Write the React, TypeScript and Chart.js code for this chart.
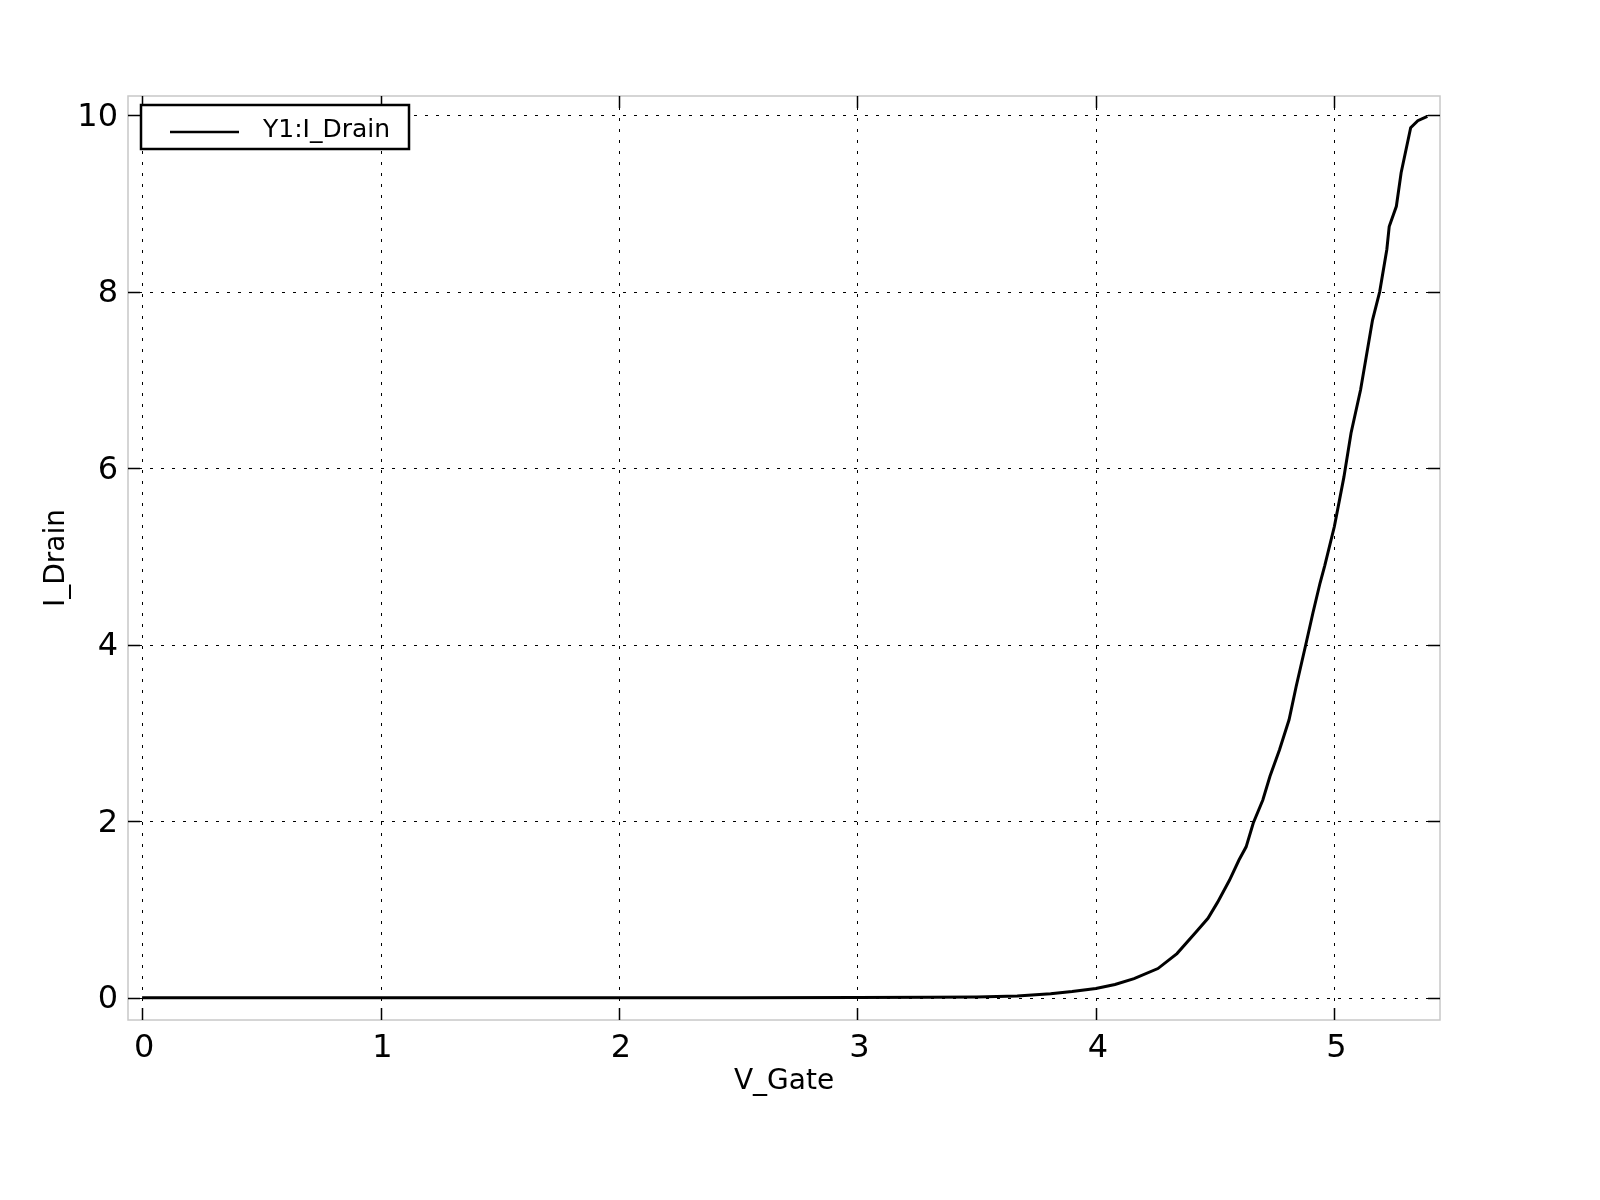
import React, { useEffect, useRef } from "react";
import { Chart, registerables } from "chart.js";

Chart.register(...registerables);

// ---- data ----
const vGate = [
  0, 0.5, 1.0, 1.5, 2.0, 2.5, 3.0, 3.3, 3.5, 3.67, 3.81, 3.9, 4.0, 4.08, 4.16,
  4.26, 4.34, 4.42, 4.47, 4.51, 4.56, 4.6, 4.63, 4.66, 4.7, 4.73, 4.77, 4.81,
  4.84, 4.88, 4.91, 4.94, 4.96, 5.0, 5.04, 5.07, 5.11, 5.16, 5.19, 5.22, 5.23,
  5.26, 5.28, 5.32, 5.35, 5.39,
];
const iDrain = [
  0, 0, 0, 0, 0, 0, 0.001, 0.004, 0.008, 0.02, 0.045, 0.07, 0.105, 0.15, 0.215,
  0.33, 0.5, 0.745, 0.9, 1.08, 1.33, 1.56, 1.71, 1.98, 2.24, 2.51, 2.81, 3.15,
  3.53, 4.0, 4.36, 4.7, 4.9, 5.34, 5.9, 6.4, 6.89, 7.68, 8.0, 8.48, 8.74, 8.97,
  9.35, 9.86, 9.94, 9.99,
];
const xTicks = [0, 1, 2, 3, 4, 5];
const yTicks = [0, 2, 4, 6, 8, 10];
const seriesLabel = "Y1:I_Drain";
const xTitle = "V_Gate";
const yTitle = "I_Drain";

const FONT = "'DejaVu Sans', 'Liberation Sans', sans-serif";

export default function App() {
  const ref = useRef<HTMLCanvasElement>(null);

  useEffect(() => {
    document.body.style.margin = "0";
    const canvas = ref.current;
    if (!canvas) return;

    const decor = {
      id: "decor",
      beforeDatasetsDraw(chart: any) {
        const { ctx, chartArea: a, scales } = chart;
        const xs = scales.x;
        const ys = scales.y;
        ctx.save();
        ctx.strokeStyle = "#000";
        ctx.lineWidth = 1;
        ctx.setLineDash([3, 8]);
        xTicks.forEach((v) => {
          const px = Math.round(xs.getPixelForValue(v)) + 0.5;
          ctx.beginPath();
          ctx.moveTo(px, a.top);
          ctx.lineTo(px, a.bottom);
          ctx.stroke();
        });
        yTicks.forEach((v) => {
          const py = Math.round(ys.getPixelForValue(v)) + 0.5;
          ctx.beginPath();
          ctx.moveTo(a.left, py);
          ctx.lineTo(a.right, py);
          ctx.stroke();
        });
        ctx.restore();
      },
      afterDraw(chart: any) {
        const { ctx, chartArea: a, scales } = chart;
        const xs = scales.x;
        const ys = scales.y;
        ctx.save();
        // frame
        ctx.strokeStyle = "#c8c8c8";
        ctx.lineWidth = 1.5;
        ctx.setLineDash([]);
        ctx.strokeRect(a.left, a.top, a.right - a.left, a.bottom - a.top);
        // tick marks (inward, all four sides)
        const tl = 12;
        ctx.strokeStyle = "#000";
        ctx.lineWidth = 1.5;
        xTicks.forEach((v) => {
          const px = Math.round(xs.getPixelForValue(v)) + 0.5;
          ctx.beginPath();
          ctx.moveTo(px, a.bottom);
          ctx.lineTo(px, a.bottom - tl);
          ctx.moveTo(px, a.top);
          ctx.lineTo(px, a.top + tl);
          ctx.stroke();
        });
        yTicks.forEach((v) => {
          const py = Math.round(ys.getPixelForValue(v)) + 0.5;
          ctx.beginPath();
          ctx.moveTo(a.left, py);
          ctx.lineTo(a.left + tl, py);
          ctx.moveTo(a.right, py);
          ctx.lineTo(a.right - tl, py);
          ctx.stroke();
        });
        // legend
        const lx = a.left + 13;
        const ly = a.top + 9;
        const lw = 268;
        const lh = 44;
        ctx.fillStyle = "#fff";
        ctx.fillRect(lx, ly, lw, lh);
        ctx.strokeStyle = "#000";
        ctx.lineWidth = 2.5;
        ctx.strokeRect(lx, ly, lw, lh);
        ctx.lineWidth = 2.5;
        ctx.beginPath();
        ctx.moveTo(lx + 29, ly + 27);
        ctx.lineTo(lx + 98, ly + 27);
        ctx.stroke();
        ctx.fillStyle = "#000";
        ctx.font = `25px ${FONT}`;
        ctx.textBaseline = "alphabetic";
        ctx.textAlign = "left";
        ctx.fillText(chart.data.datasets[0].label, lx + 122, ly + 32);
        ctx.restore();
      },
    };

    const chart = new Chart(canvas, {
      type: "line",
      data: {
        datasets: [
          {
            label: seriesLabel,
            data: vGate.map((x, i) => ({ x, y: iDrain[i] })),
            borderColor: "#000",
            backgroundColor: "#000",
            borderWidth: 3,
            pointRadius: 0,
            tension: 0,
            fill: false,
          },
        ],
      },
      options: {
        responsive: false,
        animation: false,
        devicePixelRatio: 1,
        layout: { padding: { left: 0, top: 96, right: 160, bottom: 0 } },
        plugins: {
          legend: { display: false },
          tooltip: { enabled: false },
        },
        scales: {
          x: {
            type: "linear",
            min: -0.059,
            max: 5.443,
            afterBuildTicks: (s: any) => {
              s.ticks = xTicks.map((v) => ({ value: v }));
            },
            afterFit: (s: any) => {
              s.height = 180;
            },
            grid: { display: false, drawTicks: false },
            border: { display: false },
            ticks: {
              color: "#000",
              font: { family: FONT, size: 32 },
              padding: 9,
              labelOffset: 2,
              maxRotation: 0,
              autoSkip: false,
              callback: (v: any) => String(v),
            },
            title: {
              display: true,
              text: xTitle,
              color: "#000",
              font: { family: FONT, size: 28 },
              padding: { top: 0, bottom: 101 },
            },
          },
          y: {
            type: "linear",
            min: -0.253,
            max: 10.22,
            afterBuildTicks: (s: any) => {
              s.ticks = yTicks.map((v) => ({ value: v }));
            },
            afterFit: (s: any) => {
              s.width = 128;
            },
            grid: { display: false, drawTicks: false },
            border: { display: false },
            ticks: {
              color: "#000",
              font: { family: FONT, size: 32 },
              padding: 10,
              labelOffset: 2,
              autoSkip: false,
              callback: (v: any) => String(v),
            },
            title: {
              display: true,
              text: yTitle,
              color: "#000",
              font: { family: FONT, size: 28 },
              padding: { top: 40, bottom: 0 },
            },
          },
        },
      },
      plugins: [decor],
    });

    return () => chart.destroy();
  }, []);

  return (
    <div style={{ width: 1600, height: 1200 }}>
      <canvas ref={ref} width={1600} height={1200} style={{ display: "block" }} />
    </div>
  );
}
